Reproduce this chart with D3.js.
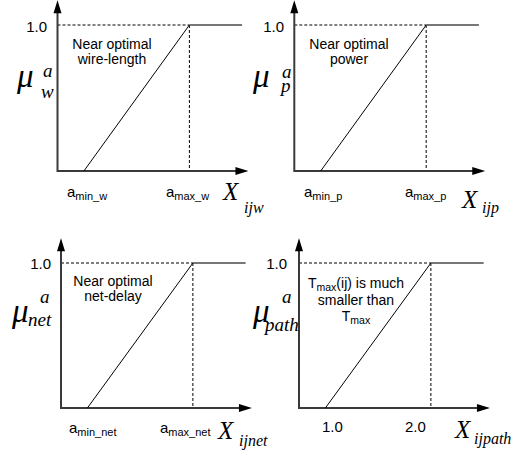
<!DOCTYPE html>
<html><head><meta charset="utf-8">
<script src="https://cdn.jsdelivr.net/npm/d3@7/dist/d3.min.js"></script>
<style>
html,body{margin:0;padding:0;background:#fff;}
svg{display:block;}
</style></head>
<body>
<svg id="chart" width="513" height="456"></svg>
<script>
// ---- data ----
const membershipX = [1.0, 2.0, 2.5];     // ramp start, ramp end, plateau end
const membershipY = [0, 1, 1];
const axisXStart = 0.75, axisXEnd = 2.56, axisYEnd = 1.17;
const yTickValue = 1.0;
const yTickLabel = "1.0";
const muSub = ["w", "p", "net", "path"];
const xAxisSub = ["ijw", "ijp", "ijnet", "ijpath"];
const xTickMain = [["a", "a"], ["a", "a"], ["a", "a"], ["1.0", "2.0"]];
const xTickSub = [["min_w", "max_w"], ["min_p", "max_p"], ["min_net", "max_net"], ["", ""]];
const noteLines = [
  [[["Near optimal", ""]], [["wire-length", ""]]],
  [[["Near optimal", ""]], [["power", ""]]],
  [[["Near optimal", ""]], [["net-delay", ""]]],
  [[["T", ""], ["max", "sub"], ["(ij) is much", "up"]], [["smaller than", ""]], [["T", ""], ["max", "sub"]]]
];

// ---- layout ----
const SANS = "'Liberation Sans', Arimo, Arial, sans-serif";
const SERIF = "'Liberation Serif', Tinos, 'Times New Roman', 'DejaVu Serif', serif";
const layout = [
  {x0: 57.5, y0: 171, y1: 25, mu: [17, 87], sup: [43, 77], sub: [41, 98], X: [223, 200], Xs: [244, 213],
   tick: [[67, 197], [166, 197]], note: [112, 49, 15], yl: [47, 32]},
  {x0: 294.3, y0: 171, y1: 25, mu: [253, 87], sup: [282, 78], sub: [281, 92], X: [462, 208], Xs: [482, 213],
   tick: [[304, 197], [405, 197]], note: [349, 49, 15], yl: [284, 32]},
  {x0: 61, y0: 408, y1: 263, mu: [12, 322], sup: [40, 303], sub: [28, 326], X: [218, 439], Xs: [239, 446],
   tick: [[69, 433], [160, 433]], note: [113, 286, 15], yl: [51, 269]},
  {x0: 299, y0: 408, y1: 263, mu: [253, 322], sup: [282, 303], sub: [265, 331], X: [455, 438], Xs: [474, 444],
   tick: [[322, 432], [405, 432]], note: [356, 288, 16.5], yl: [287, 269]}
];
const pxPerUnit = 105.5;

const svg = d3.select("#chart");

function serifText(g, pos, size, str) {
  return g.append("text").attr("x", pos[0]).attr("y", pos[1])
    .attr("font-family", SERIF).attr("font-style", "italic")
    .attr("font-size", size).attr("fill", "#000").text(str);
}

layout.forEach((L, i) => {
  const g = svg.append("g");
  const x = d3.scaleLinear().domain([axisXStart, axisXEnd])
    .range([L.x0, L.x0 + (axisXEnd - axisXStart) * pxPerUnit]);
  const y = d3.scaleLinear().domain([0, 1]).range([L.y0, L.y1]);
  const axisCol = "#3a3a3a";

  // dotted guides
  g.append("line").attr("x1", x(axisXStart)).attr("x2", x(membershipX[1]))
    .attr("y1", y(yTickValue)).attr("y2", y(yTickValue))
    .attr("stroke", "#000").attr("stroke-width", 1).attr("stroke-dasharray", "3,2");
  g.append("line").attr("x1", x(membershipX[1])).attr("x2", x(membershipX[1]))
    .attr("y1", y(1)).attr("y2", y(0))
    .attr("stroke", "#000").attr("stroke-width", 1).attr("stroke-dasharray", "3,2");

  // axes
  const tipLen = 13, half = 4;
  g.append("line").attr("x1", x(axisXStart)).attr("x2", x(axisXEnd) - tipLen + 1)
    .attr("y1", y(0)).attr("y2", y(0)).attr("stroke", axisCol).attr("stroke-width", 2);
  g.append("line").attr("x1", x(axisXStart)).attr("x2", x(axisXStart))
    .attr("y1", y(0) + 1).attr("y2", y(axisYEnd) + tipLen - 1).attr("stroke", axisCol).attr("stroke-width", 2);
  g.append("path").attr("fill", "#000")
    .attr("d", `M${x(axisXEnd)},${y(0)}L${x(axisXEnd) - tipLen},${y(0) - half}L${x(axisXEnd) - tipLen},${y(0) + half}Z`);
  g.append("path").attr("fill", "#000")
    .attr("d", `M${x(axisXStart)},${y(axisYEnd)}L${x(axisXStart) - half},${y(axisYEnd) + tipLen}L${x(axisXStart) + half},${y(axisYEnd) + tipLen}Z`);

  // membership function
  g.append("line").attr("x1", x(membershipX[0])).attr("y1", y(membershipY[0]))
    .attr("x2", x(membershipX[1])).attr("y2", y(membershipY[1]))
    .attr("stroke", "#000").attr("stroke-width", 1);
  g.append("line").attr("x1", x(membershipX[1])).attr("y1", y(membershipY[1]))
    .attr("x2", x(membershipX[2])).attr("y2", y(membershipY[2]))
    .attr("stroke", "#4a4a4a").attr("stroke-width", 1.6);

  // y tick label
  g.append("text").attr("font-family", SANS).attr("x", L.yl[0]).attr("y", L.yl[1])
    .attr("text-anchor", "end").attr("font-size", 15).text(yTickLabel);

  // mu label
  serifText(g, L.mu, 33, "\u03BC");
  serifText(g, L.sup, 19, "a");
  serifText(g, L.sub, 19, muSub[i]);

  // X label
  serifText(g, L.X, 25, "X");
  serifText(g, L.Xs, 16, xAxisSub[i]);

  // x tick labels
  [0, 1].forEach(k => {
    const t = g.append("text").attr("font-family", SANS).attr("x", L.tick[k][0]).attr("y", L.tick[k][1])
      .attr("font-size", 15);
    t.append("tspan").text(xTickMain[i][k]);
    if (xTickSub[i][k]) t.append("tspan").attr("font-size", 11).attr("dy", 3).text(xTickSub[i][k]);
  });

  // note text
  noteLines[i].forEach((line, li) => {
    const t = g.append("text").attr("font-family", SANS).attr("x", L.note[0]).attr("y", L.note[1] + li * L.note[2])
      .attr("text-anchor", "middle").attr("font-size", 14);
    line.forEach(([s, kind]) => {
      const ts = t.append("tspan").text(s);
      if (kind === "sub") ts.attr("font-size", 10.5).attr("dy", 3);
      if (kind === "up") ts.attr("dy", -3);
    });
  });
});
</script>
</body></html>
